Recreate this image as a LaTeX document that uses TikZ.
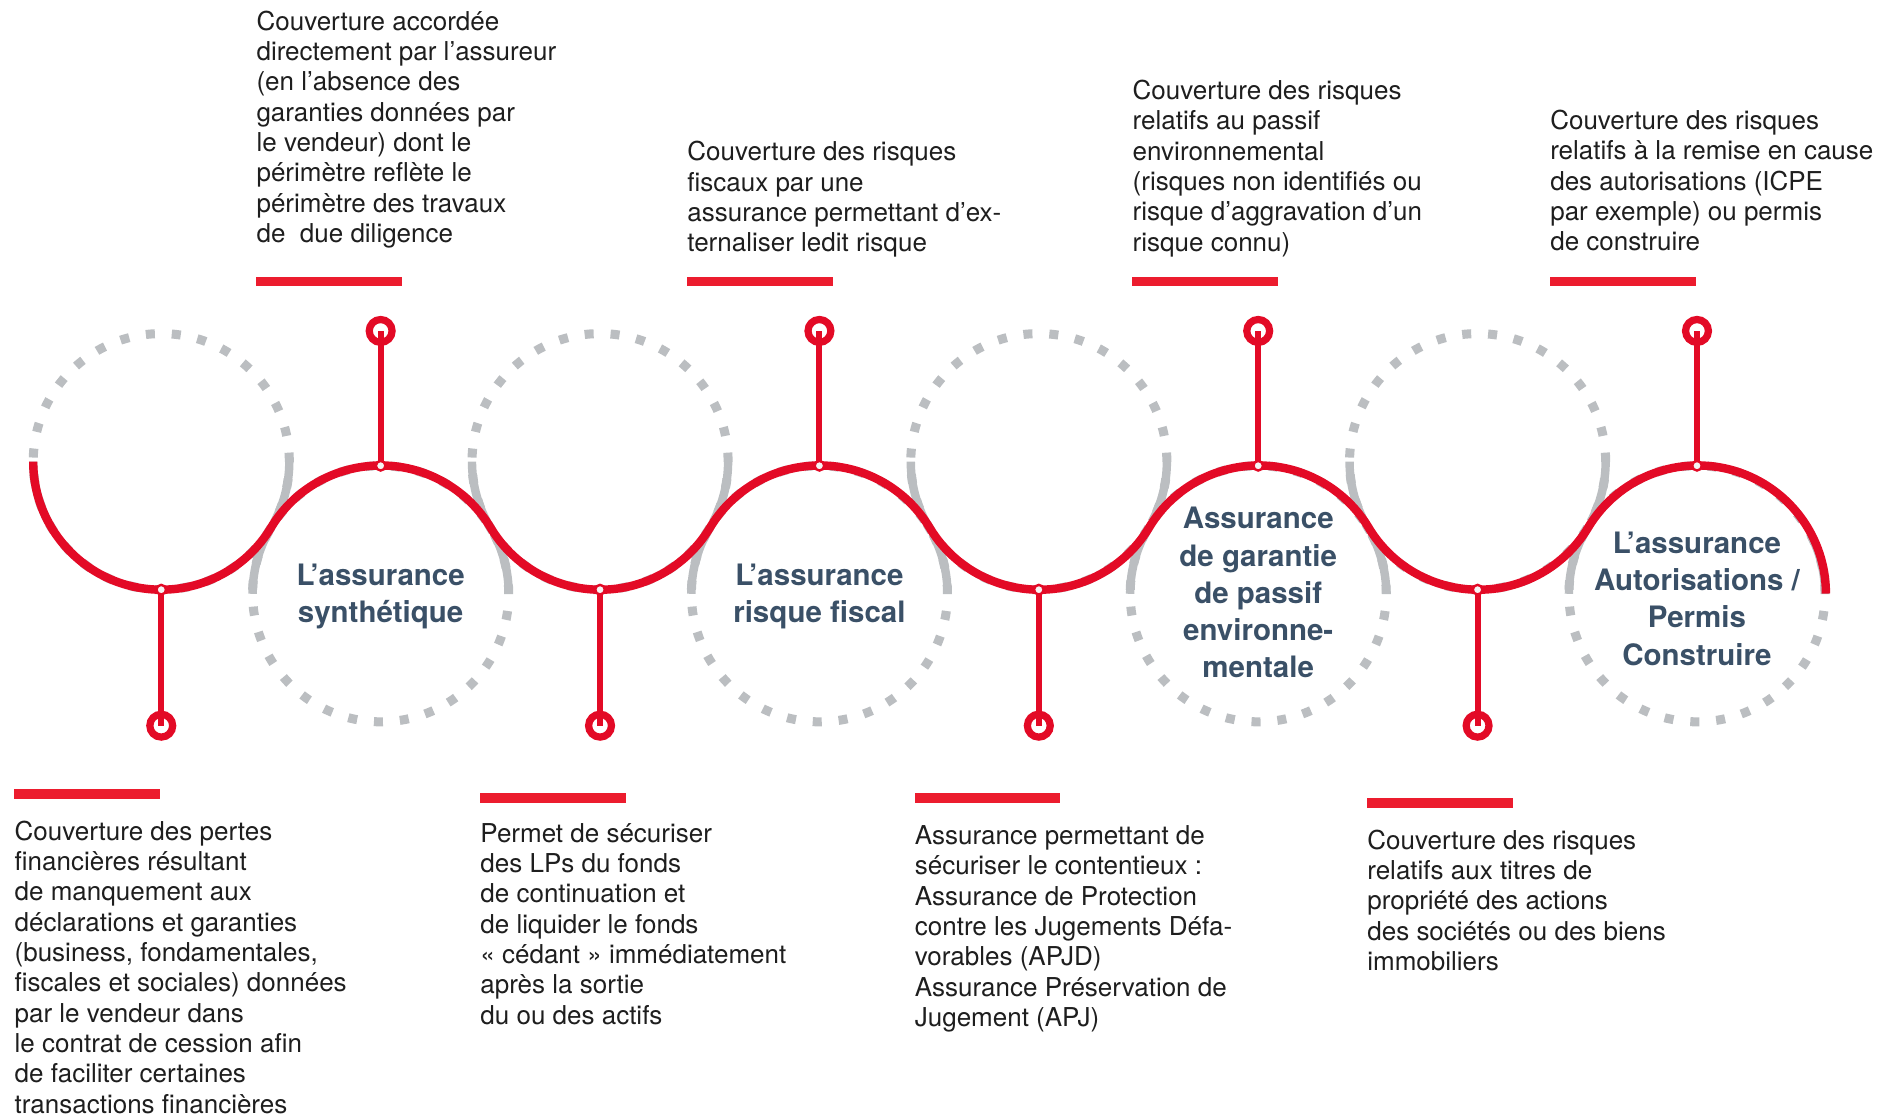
\documentclass[tikz,border=0pt]{standalone}
\usepackage{fontspec}
\setmainfont{TeX Gyre Heros}
\usetikzlibrary{calc}
\definecolor{wred}{RGB}{227,10,38}
\definecolor{bred}{RGB}{236,28,46}
\definecolor{dgray}{RGB}{187,190,193}
\definecolor{tblue}{RGB}{58,80,103}
\definecolor{txt}{RGB}{30,30,30}
\begin{document}
\begin{tikzpicture}[x=1pt,y=-1pt,
  dotcirc/.style={draw=dgray, line width=7.5pt, dash pattern=on 7.5pt off 14.06pt},
  shade/.style={draw=dgray, line width=7pt},
  wave/.style={draw=wred, line width=7pt},
  conn/.style={draw=wred, line width=5pt},
  marker/.style={circle, draw=wred, line width=6pt, fill=white, minimum size=19pt, inner sep=0pt},
  joint/.style={circle, draw=wred, line width=2pt, fill=white!92!gray, minimum size=8pt, inner sep=0pt},
  bar/.style={fill=bred},
  desc/.style={anchor=north west, inner sep=0pt, align=left, text=txt, font=\fontsize{21.6}{25.2}\selectfont},
  title/.style={anchor=center, inner sep=0pt, align=center, text=tblue, font=\bfseries\fontsize{24.5}{31}\selectfont}]
\useasboundingbox (0,0) rectangle (1568,928);

% circle centres
\coordinate (c1) at (134,383.6);
\coordinate (c2) at (316.3,493.4);
\coordinate (c3) at (498.6,383.6);
\coordinate (c4) at (680.9,493.4);
\coordinate (c5) at (863.2,383.6);
\coordinate (c6) at (1045.5,493.4);
\coordinate (c7) at (1227.8,383.6);
\coordinate (c8) at (1410.1,493.4);

% dotted circles
\foreach \c in {c1,c2,c3,c4,c5,c6,c7,c8}
  \draw[dotcirc] (\c) circle[radius=106.4pt];

% solid grey pieces beside the wave crossings
\foreach \c in {c1,c3,c5,c7}{
  \draw[shade] ($(\c)+(106.4,0)$) arc[start angle=0, end angle=-28, radius=106.4pt];
  \draw[shade] ($(\c)+(-106.4,0)$) arc[start angle=180, end angle=208, radius=106.4pt];
}
\foreach \c in {c2,c4,c6,c8}{
  \draw[shade] ($(\c)+(106.4,0)$) arc[start angle=0, end angle=28, radius=106.4pt];
  \draw[shade] ($(\c)+(-106.4,0)$) arc[start angle=180, end angle=152, radius=106.4pt];
}

% wave
\draw[wave] ($(c1)+(-106.4,0)$)
  arc[start angle=180, end angle=329, radius=106.4pt]
  arc[start angle=149, end angle=31, radius=106.4pt]
  arc[start angle=211, end angle=329, radius=106.4pt]
  arc[start angle=149, end angle=31, radius=106.4pt]
  arc[start angle=211, end angle=329, radius=106.4pt]
  arc[start angle=149, end angle=31, radius=106.4pt]
  arc[start angle=211, end angle=329, radius=106.4pt]
  arc[start angle=149, end angle=0, radius=106.4pt];

% markers
\node[marker] (mb1) at (134,603) {};
\node[marker] (mt1) at (316.3,275) {};
\node[marker] (mb2) at (498.6,603) {};
\node[marker] (mt2) at (680.9,275) {};
\node[marker] (mb3) at (863.2,603) {};
\node[marker] (mt3) at (1045.5,275) {};
\node[marker] (mb4) at (1227.8,603) {};
\node[marker] (mt4) at (1410.1,275) {};

% joints on the wave
\coordinate (pb1) at (134,490);
\coordinate (pt1) at (316.3,387);
\coordinate (pb2) at (498.6,490);
\coordinate (pt2) at (680.9,387);
\coordinate (pb3) at (863.2,490);
\coordinate (pt3) at (1045.5,387);
\coordinate (pb4) at (1227.8,490);
\coordinate (pt4) at (1410.1,387);

\foreach \i in {1,2,3,4}{
  \draw[conn] (pb\i) -- (mb\i.center);
  \draw[conn] (pt\i) -- (mt\i.center);
  \node[joint] (jb\i) at (pb\i) {};
  \node[joint] (jt\i) at (pt\i) {};
}

% red bars
\fill[bar] (213,230) rectangle (334,238);
\fill[bar] (571,230) rectangle (692,238);
\fill[bar] (941,230) rectangle (1062,238);
\fill[bar] (1288,230) rectangle (1409,238);
\fill[bar] (12,656) rectangle (133,664);
\fill[bar] (399,659) rectangle (520,667);
\fill[bar] (760,659) rectangle (881,667);
\fill[bar] (1136,663) rectangle (1257,671);

% top texts
\node[desc] (d1) at (213,5) {\rule{0pt}{20pt}Couverture accordée\\directement par l’assureur\\(en l’absence des\\garanties données par\\le vendeur) dont le\\périmètre reflète le\\périmètre des travaux\\de\ \ due diligence};
\node[desc] (d2) at (571,113.5) {\rule{0pt}{20pt}Couverture des risques\\fiscaux par une\\assurance permettant d’ex-\\ternaliser ledit risque};
\node[desc] (d3) at (941,62.5) {\rule{0pt}{20pt}Couverture des risques\\relatifs au passif\\environnemental\\(risques non identifiés ou\\risque d’aggravation d’un\\risque connu)};
\node[desc] (d4) at (1288,87.5) {\rule{0pt}{20pt}Couverture des risques\\relatifs à la remise en cause\\des autorisations (ICPE\\par exemple) ou permis\\de construire};

% bottom texts
\node[desc] (e1) at (12,678) {\rule{0pt}{20pt}Couverture des pertes\\financières résultant\\de manquement aux\\déclarations et garanties\\(business, fondamentales,\\fiscales et sociales) données\\par le vendeur dans\\le contrat de cession afin\\de faciliter certaines\\transactions financières};
\node[desc] (e2) at (399,679.5) {\rule{0pt}{20pt}Permet de sécuriser\\des LPs du fonds\\de continuation et\\de liquider le fonds\\«~cédant~» immédiatement\\après la sortie\\du ou des actifs};
\node[desc] (e3) at (760,681.5) {\rule{0pt}{20pt}Assurance permettant de\\sécuriser le contentieux :\\Assurance de Protection\\contre les Jugements Défa-\\vorables (APJD)\\Assurance Préservation de\\Jugement (APJ)};
\node[desc] (e4) at (1136,685.5) {\rule{0pt}{20pt}Couverture des risques\\relatifs aux titres de\\propriété des actions\\des sociétés ou des biens\\immobiliers};

% titles
\node[title] (t1) at (316.3,495.5) {L’assurance\\synthétique};
\node[title] (t2) at (680.9,495.5) {L’assurance\\risque fiscal};
\node[title] (t3) at (1045.5,492.5) {Assurance\\de garantie\\de passif\\environne-\\mentale};
\node[title] (t4) at (1410.1,497.5) {L’assurance\\Autorisations /\\Permis\\Construire};
\end{tikzpicture}
\end{document}
